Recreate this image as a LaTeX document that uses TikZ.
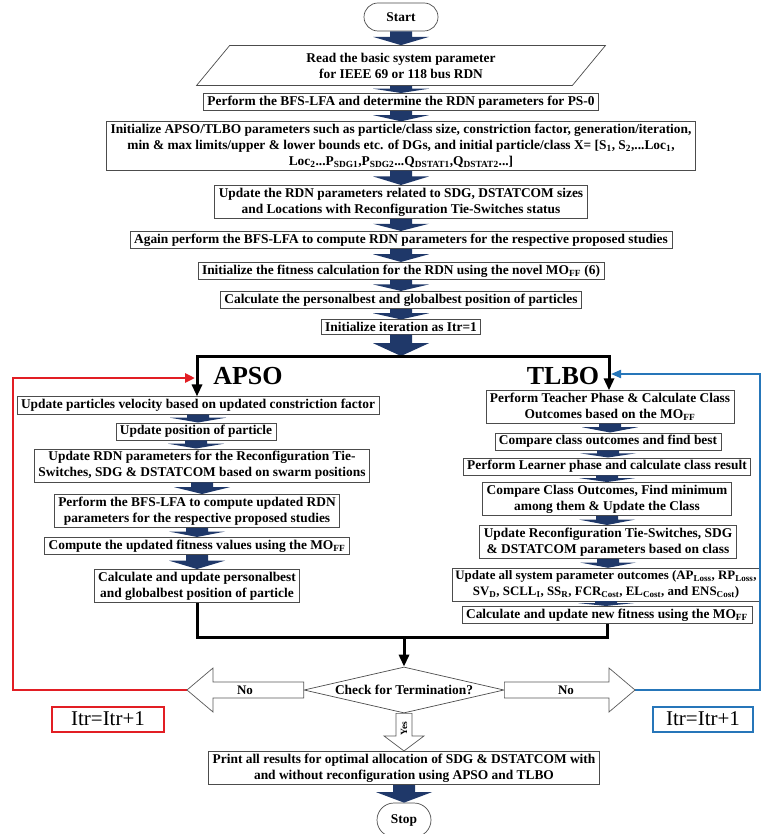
\documentclass[tikz,border=0pt]{standalone}
\usepackage{fontspec}
\setmainfont{Liberation Serif}
\usetikzlibrary{calc,arrows.meta,shapes.geometric}
\definecolor{flowblue}{RGB}{31,56,105}
\definecolor{loopred}{RGB}{226,30,36}
\definecolor{loopblue}{RGB}{38,118,185}
\tikzset{
  box/.style={draw=black!70, line width=0.7pt, fill=white, align=center, inner xsep=4pt, inner ysep=2.5pt, font=\bfseries\fontsize{13.4}{16}\selectfont},
  term/.style={box, rounded corners=14pt, minimum height=28pt},
  thk/.style={line width=3pt},
  hollow/.style={draw=black!65, line width=0.7pt, fill=white},
  itrbox/.style={draw, line width=2pt, fill=white, font=\fontsize{21}{23}\selectfont, minimum height=25pt, inner sep=0pt},
  headlbl/.style={font=\bfseries\fontsize{26}{28}\selectfont, inner sep=0pt},
  lbl/.style={font=\bfseries\fontsize{13}{14}\selectfont, inner sep=0pt},
}
\newcommand\flow[2]{\path[fill=flowblue] let \p1=(#1), \p2=(#2), \n1={\y1-0.4*(\y1-\y2)} in
  (\x1-11pt,\y1) -- (\x1+11pt,\y1) -- (\x1+11pt,{\n1*1pt}) -- (\x1+28pt,{\n1*1pt})
  -- (\x1,\y2) -- (\x1-28pt,{\n1*1pt}) -- (\x1-11pt,{\n1*1pt}) -- cycle;}

\begin{document}
\begin{tikzpicture}[x=1pt,y=-1pt]
\useasboundingbox (0,0) rectangle (762,834);
%%%%% START %%%%%

\node[term, minimum width=74pt] (start) at (401,17) {Start};
\node[box, trapezium, trapezium left angle=58, trapezium right angle=122, trapezium stretches=true, minimum height=40pt, minimum width=410pt] (read) at (401,65.5) {Read the basic system parameter\\for IEEE 69 or 118 bus RDN};
\node[box] (bfs) at (401,102) {Perform the BFS-LFA and determine the RDN parameters for PS-0};
\node[box] (init) at (401,146) {Initialize APSO/TLBO parameters such as particle/class size, constriction factor, generation/iteration,\\min \& max limits/upper \& lower bounds etc. of DGs, and initial particle/class X= [S\textsubscript{1}, S\textsubscript{2},...Loc\textsubscript{1},\\Loc\textsubscript{2}...P\textsubscript{SDG1},P\textsubscript{SDG2}...Q\textsubscript{DSTAT1},Q\textsubscript{DSTAT2}...]};
\node[box] (upd) at (401,202) {Update the RDN parameters related to SDG, DSTATCOM sizes\\and Locations with Reconfiguration Tie-Switches status};
\node[box] (again) at (401,240) {Again perform the BFS-LFA to compute RDN parameters for the respective proposed studies};
\node[box] (fit) at (401,271) {Initialize the fitness calculation for the RDN using the novel MO\textsubscript{FF} (6)};
\node[box] (pbest) at (401,300) {Calculate the personalbest and globalbest position of particles};
\node[box] (iter) at (401,327) {Initialize iteration as Itr=1};

\flow{start.south}{read.north}
\flow{read.south}{bfs.north}
\flow{bfs.south}{init.north}
\flow{init.south}{upd.north}
\flow{upd.south}{again.north}
\flow{again.south}{fit.north}
\flow{fit.south}{pbest.north}
\flow{pbest.south}{iter.north}

\coordinate (split) at (401,356);
\coordinate (aj) at (197,356);
\coordinate (tj) at (609,356);
\flow{iter.south}{split}

\node[headlbl] (apso) at (248,376) {APSO};
\node[headlbl] (tlbo) at (563,376) {TLBO};

% APSO
\node[box] (a1) at (198,405.5) {Update particles velocity based on updated constriction factor};
\node[box] (a2) at (196,431.5) {Update position of particle};
\node[box] (a3) at (202,465.5) {Update RDN parameters for the Reconfiguration Tie-\\Switches, SDG \& DSTATCOM based on swarm positions};
\node[box] (a4) at (197,511) {Perform the BFS-LFA to compute updated RDN\\parameters for the respective proposed studies};
\node[box] (a5) at (197,546) {Compute the updated fitness values using the MO\textsubscript{FF}};
\node[box] (a6) at (197,586) {Calculate and update personalbest\\and globalbest position of particle};

\flow{a1.south}{a2.north}
\flow{a2.south}{a3.north}
\flow{a3.south}{a4.north}
\flow{a4.south}{a5.north}
\flow{a5.south}{a6.north}

% TLBO
\node[box] (t1) at (610,407) {Perform Teacher Phase \& Calculate Class\\Outcomes based on the MO\textsubscript{FF}};
\node[box] (t2) at (608,441.5) {Compare class outcomes and find best};
\node[box] (t3) at (607,466.5) {Perform Learner phase and calculate class result};
\node[box] (t4) at (607,499) {Compare Class Outcomes, Find minimum\\among them \& Update the Class};
\node[box] (t5) at (608,542) {Update Reconfiguration Tie-Switches, SDG\\\& DSTATCOM parameters based on class};
\node[box, font=\bfseries\fontsize{12.9}{16}\selectfont, inner xsep=3pt] (t6) at (606,584.5) {Update all system parameter outcomes (AP\textsubscript{Loss}, RP\textsubscript{Loss},\\SV\textsubscript{D}, SCLL\textsubscript{I}, SS\textsubscript{R}, FCR\textsubscript{Cost}, EL\textsubscript{Cost}, and ENS\textsubscript{Cost})};
\node[box] (t7) at (607,615) {Calculate and update new fitness using the MO\textsubscript{FF}};

\flow{t1.south}{t2.north}
\flow{t2.south}{t3.north}
\flow{t3.south}{t4.north}
\flow{t4.south}{t5.north}
\flow{t5.south}{t6.north}
\flow{t6.south}{t7.north}

\draw[thk, {Triangle[length=12pt,width=10pt]}-{Triangle[length=12pt,width=10pt]}] (aj |- a1.north) -- (aj) -- (tj) -- (tj |- t1.north);

\coordinate (jn) at (404,637);
\draw[thk] (a6.south) -- (a6.south |- jn) -- (t7.south |- jn) -- (t7.south);

% check
\node[box, diamond, aspect=4.3, minimum width=200pt, minimum height=46pt, inner sep=0pt] (chk) at (404,690) {Check for Termination?};
\draw[thk, -{Triangle[length=12pt,width=10pt]}] (jn) -- (chk.north);

\node[box] (print) at (404,768) {Print all results for optimal allocation of SDG \& DSTATCOM with\\and without reconfiguration using APSO and TLBO};
\node[term, minimum width=54pt, minimum height=34pt, rounded corners=17pt] (stop) at (404,820) {Stop};
\flow{print.south}{stop.north}

\coordinate (lno) at (187,690);
\coordinate (rno) at (635,690);
\coordinate (rx) at (13,378);
\coordinate (redin) at (195,378);
\coordinate (bx) at (760,374);
\coordinate (bluein) at (611,374);

\draw[line width=2.5pt, loopred, -{Triangle[length=10pt,width=9pt]}] (lno) -| (rx) -- (redin);
\draw[line width=2pt, loopblue, -{Triangle[length=10pt,width=8pt]}] (rno) -| (bx) -- (bluein);

\draw[hollow] ($(chk.west)+(0,-8)$) -- ($(lno)+(26,-8)$) -- ($(lno)+(26,-22)$) -- (lno) -- ($(lno)+(26,22)$) -- ($(lno)+(26,8)$) -- ($(chk.west)+(0,8)$) -- cycle;
\draw[hollow] ($(chk.east)+(0,-8)$) -- ($(rno)+(-26,-8)$) -- ($(rno)+(-26,-22)$) -- (rno) -- ($(rno)+(-26,22)$) -- ($(rno)+(-26,8)$) -- ($(chk.east)+(0,8)$) -- cycle;
\node[lbl] (nol) at (245,690) {No};
\node[lbl] (nor) at (566,690) {No};

\draw[hollow] ($(chk.south)+(-8,0)$) -- ($(print.north)+(-8,-15)$) -- ($(print.north)+(-20,-15)$) -- (print.north) -- ($(print.north)+(20,-15)$) -- ($(print.north)+(8,-15)$) -- ($(chk.south)+(8,0)$) -- cycle;
\node[lbl, rotate=90, font=\bfseries\fontsize{9.5}{10}\selectfont] (yes) at ($(chk.south)!0.4!(print.north)$) {Yes};

\node[itrbox, draw=loopred, minimum width=112pt] (itrl) at (108,719) {Itr=Itr+1};
\node[itrbox, draw=loopblue, minimum width=100pt] (itrr) at (703,719) {Itr=Itr+1};

%%%%% END %%%%%
\end{tikzpicture}
\end{document}
